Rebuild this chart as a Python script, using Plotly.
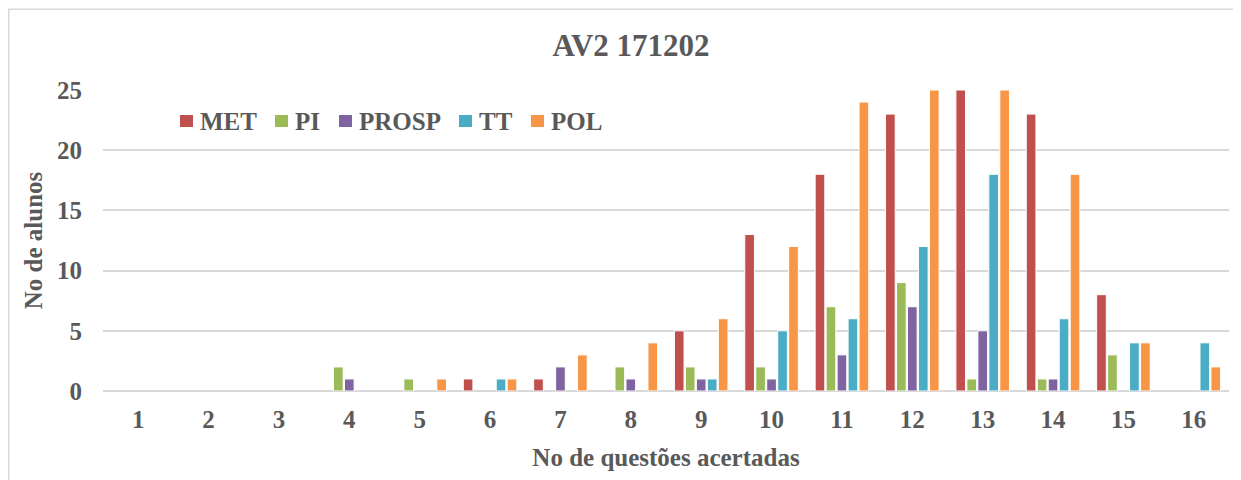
import plotly.graph_objects as go

categories = [str(i) for i in range(1, 17)]
met   = [0, 0, 0, 0, 0, 1, 1, 0, 5, 13, 18, 23, 25, 23, 8, 0]
pi    = [0, 0, 0, 2, 1, 0, 0, 2, 2, 2, 7, 9, 1, 1, 3, 0]
prosp = [0, 0, 0, 1, 0, 0, 2, 1, 1, 1, 3, 7, 5, 1, 0, 0]
tt    = [0, 0, 0, 0, 0, 1, 0, 0, 1, 5, 6, 12, 18, 6, 4, 4]
pol   = [0, 0, 0, 0, 1, 1, 3, 4, 6, 12, 24, 25, 25, 18, 4, 2]

series = [
    ("MET", met, "#C0504D"),
    ("PI", pi, "#9BBB59"),
    ("PROSP", prosp, "#8064A2"),
    ("TT", tt, "#4BACC6"),
    ("POL", pol, "#F79646"),
]

FONT = "Liberation Serif"
GRAY = "#595959"
GRID = "#D9D9D9"

# page has an 8px body margin: figure origin sits at page (8, 8)
OFF = 8
W, H = 1241 - OFF, 480 - OFF
L, R, T, B = 103 - OFF, 12, 90 - OFF, 89
pw = W - L - R
ph = H - T - B


def px_x(p):  # page px -> paper x
    return (p - OFF - L) / pw


def px_y(p):  # page px -> paper y
    return (H - B - (p - OFF)) / ph


fig = go.Figure()
for name, vals, col in series:
    fig.add_trace(go.Bar(
        x=categories, y=[v if v else None for v in vals], name=name,
        marker=dict(color=col, line=dict(color="white", width=1)),
        showlegend=False,
    ))

# legend drawn as shapes + text (Excel-like compact spacing)
legend_sq_left = [180, 275, 339, 459, 531]
shapes = [dict(type="rect", xref="paper", yref="paper",
               x0=px_x(8.75), x1=px_x(1300), y0=px_y(560), y1=px_y(9.25),
               line=dict(color=GRID, width=1.5), fillcolor="rgba(0,0,0,0)",
               layer="below")]
annotations = []
for (name, _, col), sx in zip(series, legend_sq_left):
    shapes.append(dict(type="rect", xref="paper", yref="paper",
                       x0=px_x(sx), x1=px_x(sx + 13), y0=px_y(127), y1=px_y(115),
                       line=dict(width=0), fillcolor=col))
    annotations.append(dict(text=f"<b>{name}</b>", xref="paper", yref="paper",
                            x=px_x(sx + 18), y=px_y(121.5), xanchor="left",
                            yanchor="middle", showarrow=False,
                            font=dict(family=FONT, size=25, color=GRAY)))

fig.update_layout(
    width=W, height=H,
    margin=dict(l=L, r=R, t=T, b=B, autoexpand=False),
    paper_bgcolor="white", plot_bgcolor="white",
    barmode="group", bargap=0.22, bargroupgap=0.12,
    font=dict(family=FONT, color=GRAY, size=25),
    title=dict(text="<b>AV2 171202</b>", xref="container", yref="container",
               x=(631 - OFF) / W, y=1 - (45 - OFF) / H,
               xanchor="center", yanchor="middle",
               font=dict(family=FONT, size=31, color=GRAY)),
    showlegend=False,
    xaxis=dict(type="category", showgrid=False, showline=False, zeroline=False,
               ticks="", tickfont=dict(family=FONT, size=25, color=GRAY, weight="bold"),
               ticklabelstandoff=11,
               title=dict(text="<b>No de questões acertadas</b>", standoff=16,
                          font=dict(family=FONT, size=25, color=GRAY))),
    yaxis=dict(range=[0, 25], tickvals=[0, 5, 10, 15, 20, 25],
               showgrid=True, gridcolor=GRID, gridwidth=1.5,
               zeroline=True, zerolinecolor=GRID, zerolinewidth=1.5,
               showline=False, ticks="",
               tickfont=dict(family=FONT, size=25, color=GRAY, weight="bold"),
               ticklabelstandoff=20,
               title=dict(text="<b>No de alunos</b>", standoff=7,
                          font=dict(family=FONT, size=25, color=GRAY))),
    shapes=shapes,
    annotations=annotations,
)

fig.write_html("out.html")
